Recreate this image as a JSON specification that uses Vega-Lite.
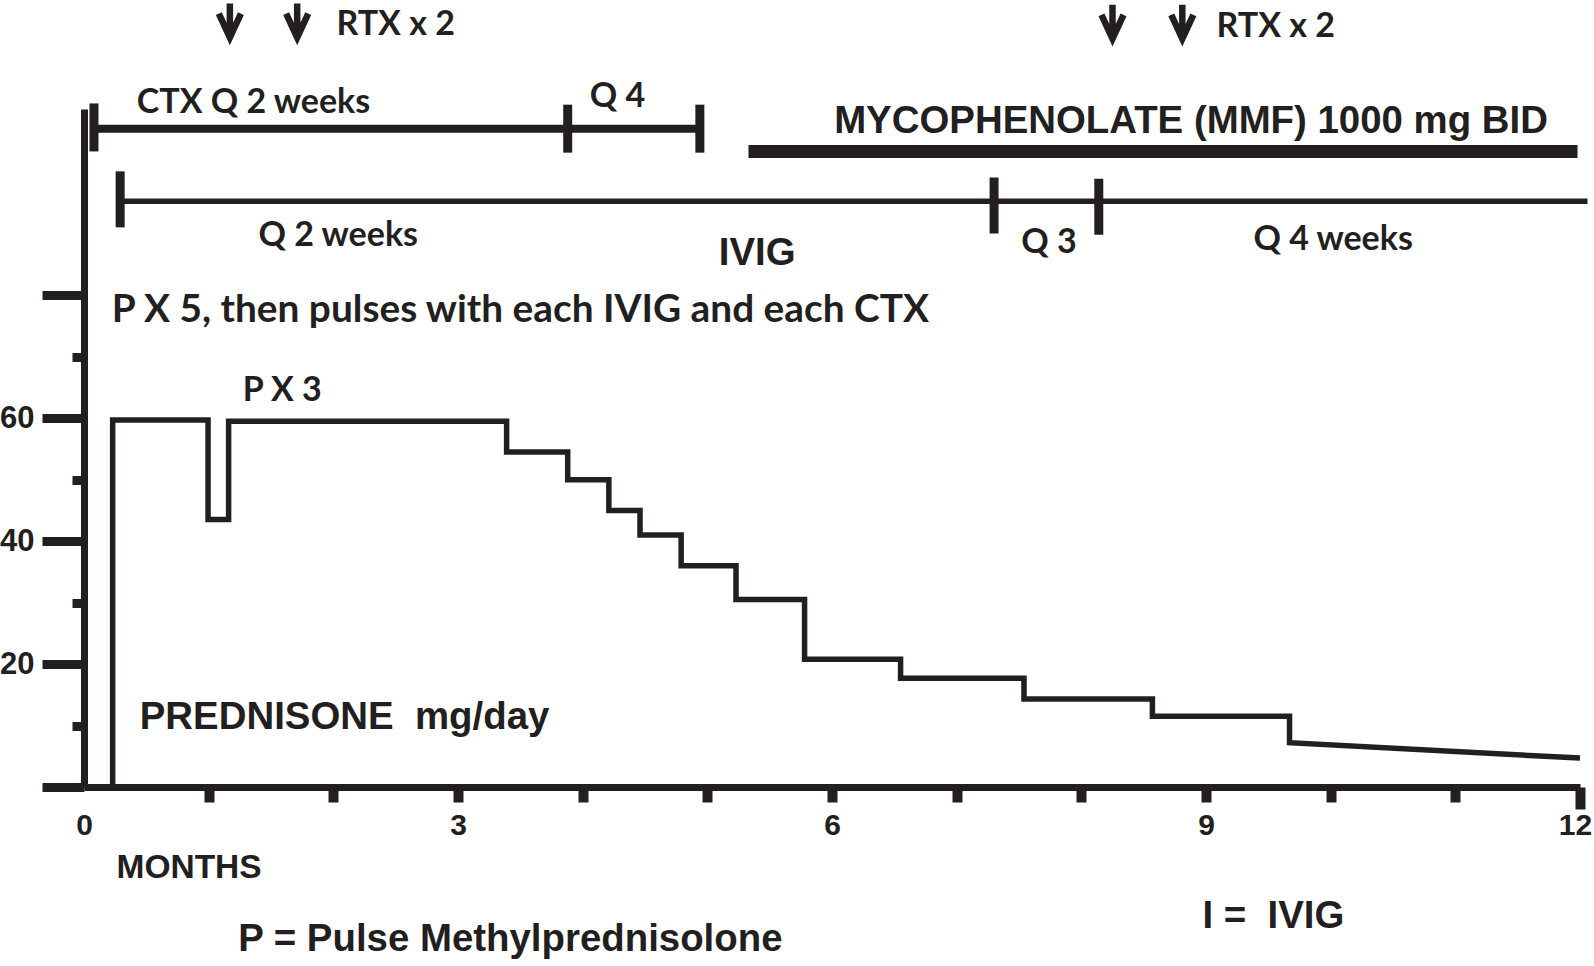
{
  "$schema": "https://vega.github.io/schema/vega-lite/v6.json",
  "width": 1496,
  "height": 678,
  "autosize": {"type": "none"},
  "padding": {"left": 84, "top": 109, "right": 14, "bottom": 179},
  "background": "white",
  "config": {"view": {"stroke": null}},
  "resolve": {"axis": {"x": "independent", "y": "independent"}},
  "datasets": {
    "prednisone": [
      {"seq": 1, "month": 0.23, "mg": 0},
      {"seq": 2, "month": 0.23, "mg": 59.7},
      {"seq": 3, "month": 0.995, "mg": 59.7},
      {"seq": 4, "month": 0.995, "mg": 43.5},
      {"seq": 5, "month": 1.16, "mg": 43.5},
      {"seq": 6, "month": 1.16, "mg": 59.5},
      {"seq": 7, "month": 3.39, "mg": 59.5},
      {"seq": 8, "month": 3.39, "mg": 54.5},
      {"seq": 9, "month": 3.88, "mg": 54.5},
      {"seq": 10, "month": 3.88, "mg": 50},
      {"seq": 11, "month": 4.21, "mg": 50},
      {"seq": 12, "month": 4.21, "mg": 45},
      {"seq": 13, "month": 4.46, "mg": 45},
      {"seq": 14, "month": 4.46, "mg": 41},
      {"seq": 15, "month": 4.79, "mg": 41},
      {"seq": 16, "month": 4.79, "mg": 36},
      {"seq": 17, "month": 5.23, "mg": 36},
      {"seq": 18, "month": 5.23, "mg": 30.5},
      {"seq": 19, "month": 5.78, "mg": 30.5},
      {"seq": 20, "month": 5.78, "mg": 20.8},
      {"seq": 21, "month": 6.55, "mg": 20.8},
      {"seq": 22, "month": 6.55, "mg": 17.7},
      {"seq": 23, "month": 7.54, "mg": 17.7},
      {"seq": 24, "month": 7.54, "mg": 14.3},
      {"seq": 25, "month": 8.57, "mg": 14.3},
      {"seq": 26, "month": 8.57, "mg": 11.5},
      {"seq": 27, "month": 9.67, "mg": 11.5},
      {"seq": 28, "month": 9.67, "mg": 7.2},
      {"seq": 29, "month": 12.0, "mg": 4.7}
    ],
    "regimens": [
      {"regimen": "CTX", "start": 0.08, "end": 4.92, "level": 107.1},
      {"regimen": "MMF", "start": 5.33, "end": 11.98, "level": 103.4},
      {"regimen": "IVIG", "start": 0.29, "end": 12.06, "level": 95.3}
    ],
    "changes": [
      {"regimen": "CTX", "month": 0.08, "level": 107.3},
      {"regimen": "CTX", "month": 3.88, "level": 107.1},
      {"regimen": "CTX", "month": 4.94, "level": 107.1},
      {"regimen": "IVIG", "month": 0.29, "level": 95.6},
      {"regimen": "IVIG", "month": 7.3, "level": 94.6},
      {"regimen": "IVIG", "month": 8.14, "level": 94.4}
    ],
    "rtx": [
      {"month": 1.17, "level": 124.7},
      {"month": 1.71, "level": 124.7},
      {"month": 8.25, "level": 124.5},
      {"month": 8.81, "level": 124.5}
    ],
    "notes": [
      {"label": "RTX x 2", "month": 2.5, "level": 124.0},
      {"label": "RTX x 2", "month": 9.56, "level": 123.7},
      {"label": "CTX Q 2 weeks", "month": 1.36, "level": 111.3},
      {"label": "Q 4", "month": 4.28, "level": 112.2},
      {"label": "Q 2 weeks", "month": 2.04, "level": 89.65},
      {"label": "Q 3", "month": 7.74, "level": 88.45},
      {"label": "Q 4 weeks", "month": 10.02, "level": 89.0},
      {"label": "P X 3", "month": 1.59, "level": 64.4}
    ],
    "pulses": [
      {"label": "P X 5, then pulses with each IVIG and each CTX", "month": 3.5, "level": 77.55}
    ],
    "titles": [
      {"label": "MYCOPHENOLATE (MMF) 1000 mg BID", "month": 8.88, "level": 108.35},
      {"label": "IVIG", "month": 5.4, "level": 86.85},
      {"label": "PREDNISONE\u00a0\u00a0mg/day", "month": 2.09, "level": 11.35},
      {"label": "P = Pulse Methylprednisolone", "month": 3.42, "level": -24.75},
      {"label": "I =\u00a0\u00a0IVIG", "month": 9.54, "level": -21.0}
    ]
  },
  "layer": [
    {
      "data": {"name": "prednisone"},
      "mark": {"type": "line", "color": "#231f20", "strokeWidth": 5.5, "strokeJoin": "miter", "strokeCap": "butt"},
      "encoding": {
        "order": {"field": "seq", "type": "quantitative"},
        "x": {
          "field": "month", "type": "quantitative",
          "scale": {"domain": [0, 12], "nice": false, "zero": false},
          "axis": {
            "orient": "bottom",
            "values": [1, 2, 3, 4, 5, 6, 7, 8, 9, 10, 11],
            "labelExpr": "datum.value % 3 === 0 ? datum.label : ''",
            "title": "MONTHS",
            "titleFont": "Liberation Sans", "titleFontSize": 33.5, "titleFontWeight": "bold", "titleColor": "#231f20",
            "titleAnchor": "start", "titleAlign": "left", "titleX": 32, "titleY": 80, "titleBaseline": "middle",
            "grid": false,
            "domainColor": "#231f20", "domainWidth": 7,
            "tickColor": "#231f20", "tickWidth": 10, "tickSize": 15,
            "labelFont": "Liberation Sans", "labelFontSize": 30, "labelFontWeight": "bold", "labelColor": "#231f20",
            "labelPadding": 8, "labelFlush": false, "labelOverlap": false
          }
        },
        "y": {
          "field": "mg", "type": "quantitative",
          "scale": {"domain": [0, 110.3], "nice": false, "zero": false},
          "axis": {
            "orient": "left",
            "values": [0, 20, 40, 60, 80],
            "labelExpr": "datum.value === 20 || datum.value === 40 || datum.value === 60 ? datum.label : ''",
            "title": null,
            "grid": false,
            "domainColor": "#231f20", "domainWidth": 7,
            "tickColor": "#231f20", "tickWidth": 9, "tickSize": 42,
            "labelFont": "Liberation Sans", "labelFontSize": 31, "labelFontWeight": "bold", "labelColor": "#231f20",
            "labelPadding": 8, "labelFlush": false, "labelOverlap": false
          }
        }
      }
    },
    {
      "data": {"name": "regimens"},
      "transform": [{"filter": "datum.regimen === 'CTX'"}],
      "mark": {"type": "rule", "color": "#231f20", "strokeCap": "butt", "strokeWidth": 8},
      "encoding": {
        "x": {
          "field": "start", "type": "quantitative", "scale": {"domain": [0, 12], "nice": false, "zero": false},
          "axis": {
            "orient": "bottom", "values": [0], "title": null, "grid": false, "domain": false,
            "tickSize": 15, "tickOpacity": 0,
            "labelFont": "Liberation Sans", "labelFontSize": 30, "labelFontWeight": "bold", "labelColor": "#231f20",
            "labelPadding": 8, "labelFlush": false, "labelOverlap": false
          }
        },
        "x2": {"field": "end"},
        "y": {
          "field": "level", "type": "quantitative", "scale": {"domain": [0, 110.3], "nice": false, "zero": false},
          "axis": {
            "orient": "left", "values": [10, 30, 50, 70], "title": null, "grid": false, "domain": false,
            "labels": false, "tickColor": "#231f20", "tickWidth": 9, "tickSize": 12
          }
        }
      }
    },
    {
      "data": {"name": "regimens"},
      "transform": [{"filter": "datum.regimen === 'MMF'"}],
      "mark": {"type": "rule", "color": "#231f20", "strokeCap": "butt", "strokeWidth": 13},
      "encoding": {
        "x": {
          "field": "start", "type": "quantitative", "scale": {"domain": [0, 12], "nice": false, "zero": false},
          "axis": {
            "orient": "bottom", "values": [12], "title": null, "grid": false, "domain": false,
            "tickColor": "#231f20", "tickWidth": 10, "tickSize": 22,
            "labelFont": "Liberation Sans", "labelFontSize": 30, "labelFontWeight": "bold", "labelColor": "#231f20",
            "labelPadding": 1, "labelOffset": -5, "labelFlush": false, "labelOverlap": false
          }
        },
        "x2": {"field": "end"},
        "y": {"field": "level", "type": "quantitative", "scale": {"domain": [0, 110.3], "nice": false, "zero": false}, "axis": null}
      }
    },
    {
      "data": {"name": "regimens"},
      "transform": [{"filter": "datum.regimen === 'IVIG'"}],
      "mark": {"type": "rule", "color": "#231f20", "strokeCap": "butt", "strokeWidth": 5.5},
      "encoding": {
        "x": {"field": "start", "type": "quantitative", "scale": {"domain": [0, 12], "nice": false, "zero": false}, "axis": null},
        "x2": {"field": "end"},
        "y": {"field": "level", "type": "quantitative", "scale": {"domain": [0, 110.3], "nice": false, "zero": false}, "axis": null}
      }
    },
    {
      "data": {"name": "changes"},
      "transform": [{"filter": "datum.regimen === 'CTX'"}],
      "mark": {"type": "tick", "orient": "vertical", "color": "#231f20", "thickness": 9, "size": 48, "opacity": 1},
      "encoding": {
        "x": {"field": "month", "type": "quantitative", "scale": {"domain": [0, 12], "nice": false, "zero": false}, "axis": null},
        "y": {"field": "level", "type": "quantitative", "scale": {"domain": [0, 110.3], "nice": false, "zero": false}, "axis": null}
      }
    },
    {
      "data": {"name": "changes"},
      "transform": [{"filter": "datum.regimen === 'IVIG'"}],
      "mark": {"type": "tick", "orient": "vertical", "color": "#231f20", "thickness": 9, "size": 56, "opacity": 1},
      "encoding": {
        "x": {"field": "month", "type": "quantitative", "scale": {"domain": [0, 12], "nice": false, "zero": false}, "axis": null},
        "y": {"field": "level", "type": "quantitative", "scale": {"domain": [0, 110.3], "nice": false, "zero": false}, "axis": null}
      }
    },
    {
      "data": {"name": "rtx"},
      "mark": {"type": "point", "shape": "M0,-1L0,1M-0.65,-0.4L0,1L0.65,-0.4", "filled": false, "stroke": "#231f20", "strokeWidth": 6.5, "strokeJoin": "miter", "size": 1156, "opacity": 1},
      "encoding": {
        "x": {"field": "month", "type": "quantitative", "scale": {"domain": [0, 12], "nice": false, "zero": false}, "axis": null},
        "y": {"field": "level", "type": "quantitative", "scale": {"domain": [0, 110.3], "nice": false, "zero": false}, "axis": null}
      }
    },
    {
      "data": {"name": "notes"},
      "mark": {"type": "text", "font": "Lato", "fontWeight": "bold", "fontSize": 34, "color": "#231f20", "align": "center", "baseline": "middle"},
      "encoding": {
        "x": {"field": "month", "type": "quantitative", "scale": {"domain": [0, 12], "nice": false, "zero": false}, "axis": null},
        "y": {"field": "level", "type": "quantitative", "scale": {"domain": [0, 110.3], "nice": false, "zero": false}, "axis": null},
        "text": {"field": "label", "type": "nominal"}
      }
    },
    {
      "data": {"name": "pulses"},
      "mark": {"type": "text", "font": "Lato", "fontWeight": "bold", "fontSize": 38.8, "color": "#231f20", "align": "center", "baseline": "middle"},
      "encoding": {
        "x": {"field": "month", "type": "quantitative", "scale": {"domain": [0, 12], "nice": false, "zero": false}, "axis": null},
        "y": {"field": "level", "type": "quantitative", "scale": {"domain": [0, 110.3], "nice": false, "zero": false}, "axis": null},
        "text": {"field": "label", "type": "nominal"}
      }
    },
    {
      "data": {"name": "titles"},
      "mark": {"type": "text", "font": "Liberation Sans", "fontWeight": "bold", "fontSize": 38.4, "color": "#231f20", "align": "center", "baseline": "middle"},
      "encoding": {
        "x": {"field": "month", "type": "quantitative", "scale": {"domain": [0, 12], "nice": false, "zero": false}, "axis": null},
        "y": {"field": "level", "type": "quantitative", "scale": {"domain": [0, 110.3], "nice": false, "zero": false}, "axis": null},
        "text": {"field": "label", "type": "nominal"}
      }
    }
  ]
}
